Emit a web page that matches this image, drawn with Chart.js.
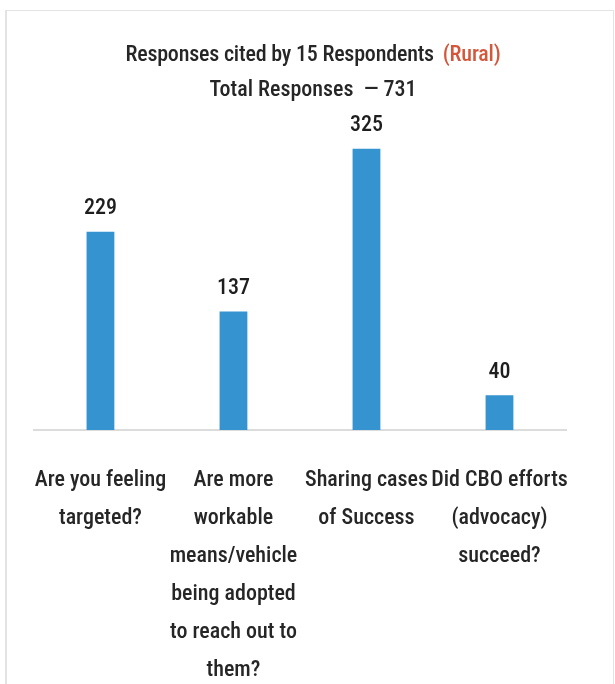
<!DOCTYPE html>
<html>
<head>
<meta charset="utf-8">
<script src="https://cdn.jsdelivr.net/npm/chart.js@4/dist/chart.umd.min.js"></script>
<style>
  html, body { margin: 0; padding: 0; background: #fff; overflow: hidden; }
  #stage { position: relative; width: 615px; height: 684px; overflow: hidden; }
  #frame {
    position: absolute; left: 5px; top: 10px; width: 609px; height: 690px;
    border: 1px solid #e3e3e3; border-left-width: 2px; box-sizing: border-box;
  }
  .title {
    position: absolute; left: 0; width: 626px; text-align: center;
    font-family: "Roboto Condensed", "DejaVu Sans Condensed", sans-serif;
    font-size: 22px; font-weight: 500; line-height: 26px; color: #262626; white-space: pre;
  }
  #title1 { top: 41px; letter-spacing: -0.2px; }
  #title2 { top: 76px; }
  .rural { color: #d4573b; margin-left: 4px; }
  #chart { position: absolute; left: 0; top: 0; }
</style>
</head>
<body>
<div id="stage">
  <div id="frame"></div>
  <canvas id="chart" width="615" height="720"></canvas>
  <div class="title" id="title1">Responses cited by 15 Respondents <span class="rural">(Rural)</span></div>
  <div class="title" id="title2">Total Responses  — 731</div>
</div>
<script>
const FONT = '"Roboto Condensed", "DejaVu Sans Condensed", sans-serif';

const categories = [
  ['Are you feeling', 'targeted?'],
  ['Are more', 'workable', 'means/vehicle', 'being adopted', 'to reach out to', 'them?'],
  ['Sharing cases', 'of Success'],
  ['Did CBO efforts', '(advocacy)', 'succeed?']
];
const responses = [229, 137, 325, 40];

// prints each bar's value just above it
const valueLabels = {
  id: 'valueLabels',
  afterDatasetsDraw(chart) {
    const ctx = chart.ctx;
    const meta = chart.getDatasetMeta(0);
    ctx.save();
    ctx.font = `500 22px ${FONT}`;
    ctx.fillStyle = '#1e1e1e';
    ctx.textAlign = 'center';
    ctx.textBaseline = 'middle';
    meta.data.forEach((bar, i) => {
      ctx.fillText(String(responses[i]), bar.x, bar.y - 23);
    });
    ctx.restore();
  }
};

new Chart(document.getElementById('chart'), {
  type: 'bar',
  data: {
    labels: categories,
    datasets: [{
      data: responses,
      backgroundColor: '#3593d0',
      borderWidth: 0,
      barPercentage: 0.209,
      categoryPercentage: 1
    }]
  },
  options: {
    responsive: false,
    animation: false,
    devicePixelRatio: 1,
    layout: { padding: { top: 127, left: 30, right: 49, bottom: 0 } },
    plugins: {
      legend: { display: false },
      tooltip: { enabled: false }
    },
    scales: {
      x: {
        grid: { display: false, drawTicks: false },
        border: { display: true, color: '#dcdcdc', width: 2 },
        ticks: {
          autoSkip: false,
          maxRotation: 0,
          minRotation: 0,
          padding: 31,
          color: '#262626',
          font: { family: FONT, size: 22, weight: 500, lineHeight: '38px' }
        }
      },
      y: {
        display: false,
        min: 0,
        max: 350
      }
    }
  },
  plugins: [valueLabels]
});
</script>
</body>
</html>
